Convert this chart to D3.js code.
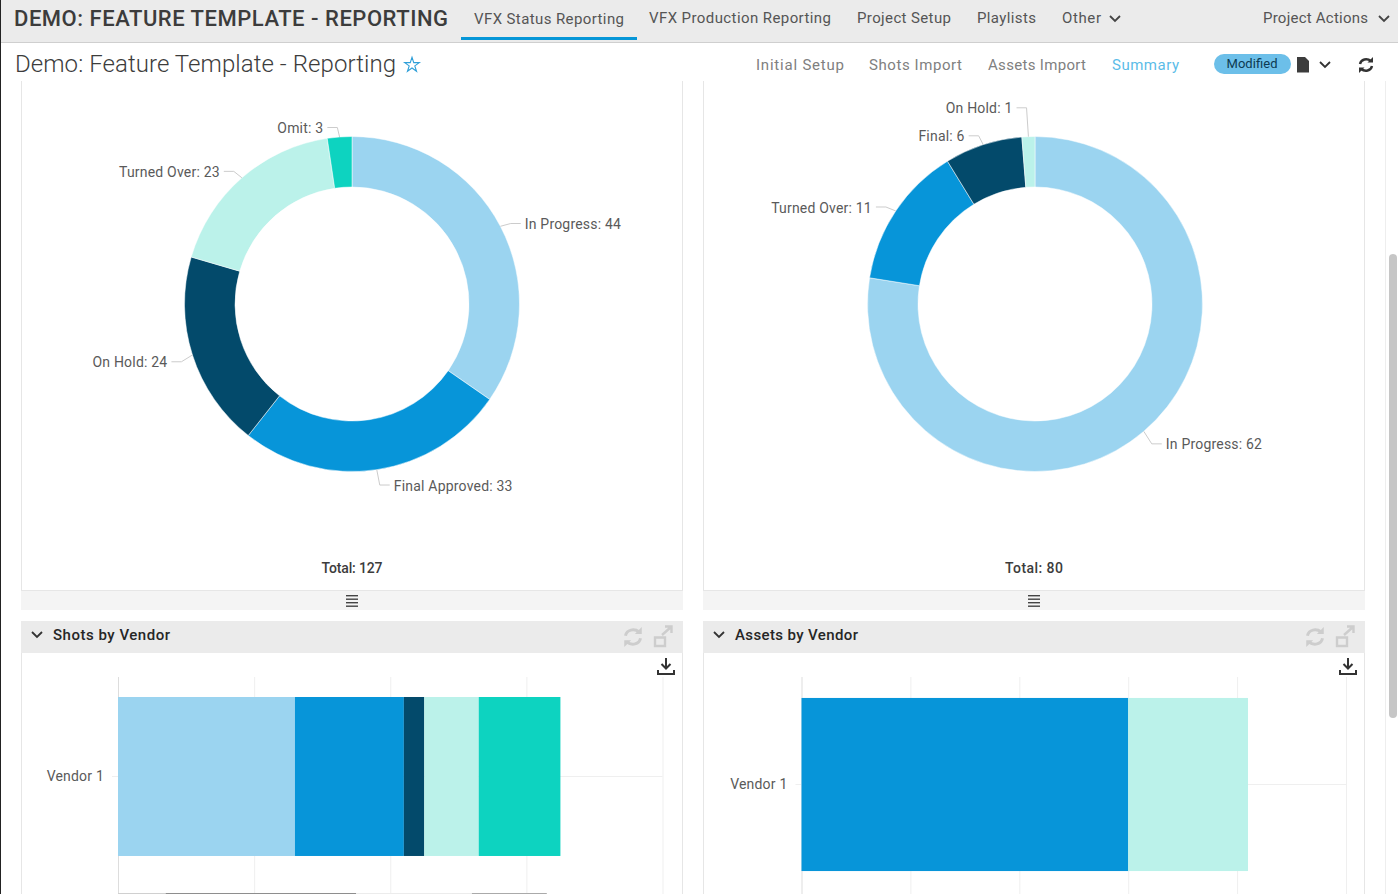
<!DOCTYPE html>
<html>
<head>
<meta charset="utf-8">
<script src="https://cdn.jsdelivr.net/npm/d3@7"></script>
<style>
  html, body { margin: 0; padding: 0; background: #fff; overflow: hidden; }
  svg { display: block; font-family: Roboto, sans-serif; }
</style>
</head>
<body>
<div class="canvas"></div>
<script>
// data
const palette = ['#9bd4f0', '#0795d9', '#034a6b', '#bbf2ea', '#0dd3c0'];

const shotStatuses = ['In Progress', 'Final Approved', 'On Hold', 'Turned Over', 'Omit'];
const shotCounts = [44, 33, 24, 23, 3];
const shotColors = [0, 1, 2, 3, 4];

const assetStatuses = ['In Progress', 'Turned Over', 'Final', 'On Hold'];
const assetCounts = [62, 11, 6, 1];
const assetColors = [0, 1, 2, 3];

const shotVendors = ['Vendor 1', 'Vendor 2'];
const shotVendorValues = [26, 16, 3, 8, 12];
const shotVendorColors = [0, 1, 2, 3, 4];
const shotXTicks = [0, 20, 40, 60, 80];
// top edge of the next bar, only one pixel of it is in view
const nextBarEdges = [0, 7, 35, 52, 63];
const nextBarColors = ['#cfcfcf', '#8c8c8c', '#ececec', '#a8a8a8'];

const assetVendors = ['Vendor 1'];
const assetVendorValues = [30, 11];
const assetVendorColors = [1, 3];
const assetXTicks = [0, 10, 20, 30, 40, 50];

const navItems = [
  ['VFX Status Reporting', 474, 150], ['VFX Production Reporting', 649, 182],
  ['Project Setup', 857, 94], ['Playlists', 977, 59], ['Other', 1062, 39],
  ['Project Actions', 1263, 105]
];
const subNavItems = [
  ['Initial Setup', 756, 88, '#808080'], ['Shots Import', 869, 93, '#808080'],
  ['Assets Import', 988, 98, '#808080'], ['Summary', 1112, 67, '#5bbce8']
];

const svg = d3.select('.canvas')
  .append('svg')
  .attr('width', 1398)
  .attr('height', 894);

const text = (g, x, y, str, size, fill, opts = {}) => {
  const t = g.append('text')
    .attr('x', x)
    .attr('y', y)
    .attr('font-size', size)
    .attr('fill', fill)
    .attr('font-weight', opts.weight || 400)
    .attr('text-anchor', opts.anchor || 'start')
    .text(str);
  if (opts.width) t.attr('textLength', opts.width);
  return t;
};

const chevron = (g, x, y, w, color) => {
  g.append('path')
    .attr('d', `M${x},${y} l${w / 2},${w / 2} l${w / 2},${-w / 2}`)
    .attr('fill', 'none')
    .attr('stroke', color)
    .attr('stroke-width', 1.8);
};

const refreshIcon = (g, x, y, s, color) => {
  const icon = g.append('g')
    .attr('transform', `translate(${x},${y}) scale(${s})`)
    .attr('fill', 'none')
    .attr('stroke', color)
    .attr('stroke-width', 2.4);
  icon.append('path').attr('d', 'M2,7 C3,2 9,1 13,4');
  icon.append('path').attr('d', 'M14,9 C13,14 7,15 3,12');
  icon.append('path').attr('d', 'M15,0 V5.5 H9.5 Z').attr('fill', color).attr('stroke', 'none');
  icon.append('path').attr('d', 'M1,16 V10.5 H6.5 Z').attr('fill', color).attr('stroke', 'none');
};

// page chrome
svg.append('rect').attr('width', 1398).attr('height', 42).attr('fill', '#ebebeb');
svg.append('rect').attr('y', 42).attr('width', 1398).attr('height', 1).attr('fill', '#cfcfcf');
svg.append('rect').attr('width', 1).attr('height', 894).attr('fill', '#222');

text(svg, 14, 26, 'DEMO: FEATURE TEMPLATE - REPORTING', 22, '#3c3c3c', {weight: 500, width: 434});
navItems.forEach(([label, x, w], i) => {
  text(svg, x, i == 0 ? 24 : 23, label, 15, '#555', {width: w});
});
svg.append('rect').attr('x', 461).attr('y', 37).attr('width', 176).attr('height', 3).attr('fill', '#0696d7');
chevron(svg, 1110, 16, 10, '#444');
chevron(svg, 1379, 16, 10, '#444');

text(svg, 15, 72, 'Demo: Feature Template - Reporting', 24, '#3c3c3c', {weight: 300, width: 381});
svg.append('path')
  .attr('d', d3.symbol(d3.symbolStar, 67)())
  .attr('transform', 'translate(412,65)')
  .attr('fill', '#fff')
  .attr('stroke', '#2f9fd8')
  .attr('stroke-width', 1.1);

subNavItems.forEach(([label, x, w, color]) => {
  text(svg, x, 70, label, 15, color, {width: w});
});
svg.append('rect')
  .attr('x', 1214).attr('y', 54).attr('width', 77).attr('height', 20).attr('rx', 10)
  .attr('fill', '#6cbfe9');
text(svg, 1252, 68, 'Modified', 13, '#0d3a52', {anchor: 'middle', width: 51});
svg.append('path').attr('d', 'M1297,57 h8 l4,4 v11.5 h-12 Z').attr('fill', '#3c3c3c');
chevron(svg, 1320, 62, 10, '#333');
refreshIcon(svg, 1358, 57, 1, '#333');

// scroll bar
svg.append('rect').attr('x', 1385).attr('y', 81).attr('width', 1).attr('height', 813).attr('fill', '#eee');
svg.append('rect').attr('x', 1389).attr('y', 254).attr('width', 8).attr('height', 464).attr('rx', 4).attr('fill', '#c6c6c6');

// the panels, left and right column
const panel = (x0, x1, title, titleWidth, total, totalWidth) => {
  const g = svg.append('g');
  const mid = (x0 + x1) / 2;

  g.append('path')
    .attr('d', `M${x0 + 0.5},81 V591 M${x1 - 0.5},81 V591 M${x0 + 0.5},653 V894 M${x1 - 0.5},653 V894`)
    .attr('stroke', '#e6e6e6')
    .attr('fill', 'none');

  text(g, mid, 573, `Total: ${total}`, 14, '#3c3c3c', {weight: 500, anchor: 'middle', width: totalWidth});

  g.append('rect').attr('x', x0).attr('y', 591).attr('width', x1 - x0).attr('height', 19).attr('fill', '#f4f4f4');
  g.append('rect').attr('x', x0).attr('y', 590).attr('width', x1 - x0).attr('height', 1).attr('fill', '#e6e6e6');
  d3.range(4).forEach(i => {
    g.append('rect').attr('x', mid - 6).attr('y', 595 + i * 3.5).attr('width', 12).attr('height', 1.4).attr('fill', '#444');
  });

  g.append('rect').attr('x', x0).attr('y', 621).attr('width', x1 - x0).attr('height', 32).attr('fill', '#ebebeb');
  chevron(g, x0 + 11, 632, 10, '#333');
  text(g, x0 + 32, 640, title, 15, '#262626', {weight: 500, width: titleWidth});

  refreshIcon(g, x1 - 60, 627, 1.25, '#cdcdcd');
  g.append('path')
    .attr('d', `M${x1 - 28},637.5 h10 v8.5 h-10 Z M${x1 - 21},635 l9,-8 M${x1 - 18},626.5 h6.5 v6.5`)
    .attr('fill', 'none')
    .attr('stroke', '#cdcdcd')
    .attr('stroke-width', 2.4);

  // download icon
  g.append('path')
    .attr('d', `M${x1 - 17},658 v10 M${x1 - 21.5},664 l4.5,4.5 l4.5,-4.5 M${x1 - 25},670 v4 h16 v-4`)
    .attr('fill', 'none')
    .attr('stroke', '#333')
    .attr('stroke-width', 2);
  return g;
};

const outerR = 167.5;
const innerR = 117;
const arc = d3.arc().innerRadius(innerR).outerRadius(outerR);

const donut = (g, cx, cy, names, values, colorIdx) => {
  const pie = d3.pie().sort(null).value(d => d.value);
  const slices = pie(names.map((name, i) => ({name, value: values[i], color: palette[colorIdx[i]]})));

  const chart = g.append('g').attr('transform', `translate(${cx},${cy})`);
  chart.selectAll('path.slice')
    .data(slices)
    .enter()
    .append('path')
      .attr('class', 'slice')
      .attr('d', arc)
      .attr('fill', d => d.data.color)
      .attr('stroke', '#fff')
      .attr('stroke-width', 0.5);

  // work out the label places around the ring
  const labels = slices.map(d => {
    const a = (d.startAngle + d.endAngle) / 2;
    const sin = Math.sin(a), cos = Math.cos(a);
    return {
      d, sin,
      px: sin * outerR,
      py: -cos * outerR,
      x: sin * outerR + Math.sign(sin) * (15.5 + 10 * Math.abs(sin)),
      y: -cos * 176 + 4 * (1 - cos)
    };
  });

  // push labels that would sit on top of each other upwards
  [labels.filter(l => l.sin < 0), labels.filter(l => l.sin >= 0)].forEach(side => {
    side.sort((a, b) => b.y - a.y);
    side.forEach((l, i) => {
      if (i > 0 && l.y > side[i - 1].y - 28) l.y = side[i - 1].y - 28;
    });
  });

  labels.forEach(l => {
    const dir = l.sin < 0 ? -1 : 1;
    chart.append('path')
      .attr('d', `M${l.x - dir * 4},${l.y - 1} h${-dir * 10} L${l.px},${l.py}`)
      .attr('fill', 'none')
      .attr('stroke', '#cccccc');
    text(chart, l.x, l.y + 4.5, `${l.d.data.name}: ${l.d.data.value}`, 14, '#5a5a5a', {anchor: dir < 0 ? 'end' : 'start'})
      .attr('letter-spacing', 0.2);
  });
};

const stackedBar = (g, opts) => {
  const {x0, x1, xMax, xTicks, vendors, values, colorIdx, y} = opts;
  const x = d3.scaleLinear().domain([0, xMax]).range([x0, x1]);

  const xAxis = d3.axisBottom(x)
    .tickValues(xTicks)
    .tickSize(-217)
    .tickFormat('');
  const xAxisGroup = g.append('g')
    .attr('transform', 'translate(0,894)')
    .call(xAxis);
  xAxisGroup.select('.domain').remove();
  xAxisGroup.selectAll('line').attr('stroke', '#efefef');
  xAxisGroup.select('.tick line').attr('stroke', '#dddddd');

  const yAxis = d3.axisLeft(y)
    .tickValues([vendors[0]])
    .tickSizeOuter(0)
    .tickSize(6)
    .tickPadding(8);
  const yAxisGroup = g.append('g')
    .attr('transform', `translate(${x0},0)`)
    .call(yAxis);
  yAxisGroup.select('.domain').remove();
  yAxisGroup.selectAll('line').attr('stroke', '#efefef');
  yAxisGroup.selectAll('text')
    .attr('font-family', 'Roboto, sans-serif')
    .attr('font-size', 14)
    .attr('fill', '#5a5a5a')
    .attr('letter-spacing', 0.2);

  g.append('line')
    .attr('x1', x0)
    .attr('x2', x1)
    .attr('y1', y(vendors[0]) + y.bandwidth() / 2)
    .attr('y2', y(vendors[0]) + y.bandwidth() / 2)
    .attr('stroke', '#efefef');

  // one row of the stack, keys are the value positions
  const keys = values.map((v, i) => i);
  const row = Object.assign({}, values);
  const series = d3.stack().keys(keys)([row]);

  g.selectAll('rect.seg')
    .data(series)
    .enter()
    .append('rect')
      .attr('class', 'seg')
      .attr('x', d => x(d[0][0]))
      .attr('y', y(vendors[0]))
      .attr('width', d => x(d[0][1]) - x(d[0][0]))
      .attr('height', y.bandwidth())
      .attr('fill', d => palette[colorIdx[d.key]]);
  return x;
};

const leftPanel = panel(21, 683, 'Shots by Vendor', 117, 127, 61);
const rightPanel = panel(703, 1365, 'Assets by Vendor', 123, 80, 58);

donut(leftPanel, 352, 304, shotStatuses, shotCounts, shotColors);
donut(rightPanel, 1035, 304, assetStatuses, assetCounts, assetColors);

const shotY = d3.scaleBand()
  .domain(shotVendors)
  .range([677, 1072])
  .paddingInner(0.189)
  .paddingOuter(0.102);
const shotX = stackedBar(leftPanel, {
  x0: 118, x1: 662.5, xMax: 80, xTicks: shotXTicks, vendors: shotVendors,
  values: shotVendorValues, colorIdx: shotVendorColors, y: shotY
});

nextBarColors.forEach((color, i) => {
  leftPanel.append('rect')
    .attr('x', shotX(nextBarEdges[i]))
    .attr('y', shotY(shotVendors[1]))
    .attr('width', shotX(nextBarEdges[i + 1]) - shotX(nextBarEdges[i]))
    .attr('height', 1)
    .attr('fill', color);
});

const assetY = d3.scaleBand()
  .domain(assetVendors)
  .range([677, 892])
  .padding(0.108);
stackedBar(rightPanel, {
  x0: 801.5, x1: 1346, xMax: 50, xTicks: assetXTicks, vendors: assetVendors,
  values: assetVendorValues, colorIdx: assetVendorColors, y: assetY
});
</script>
</body>
</html>
